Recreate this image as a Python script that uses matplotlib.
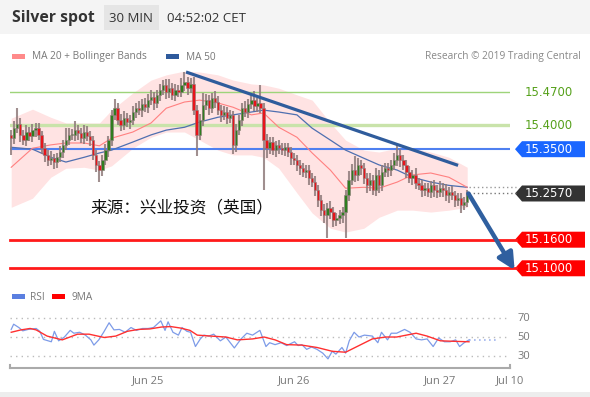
import numpy as np
import matplotlib
matplotlib.use("Agg")
import matplotlib.pyplot as plt
from matplotlib.patches import Polygon, Rectangle

# ---------------- data ----------------
# candle closes (30-min), first candle Jun 24 01:30, hours relative to Jun 25 00:00
first_candle_hour = -22.5
closes = [15.373, 15.394, 15.403, 15.380, 15.369, 15.386, 15.378, 15.390, 15.394, 15.380,
          15.352, 15.338, 15.327, 15.331, 15.323, 15.333, 15.344, 15.359, 15.369, 15.380,
          15.380, 15.390, 15.384, 15.373, 15.386, 15.378, 15.369, 15.338, 15.317, 15.306,
          15.327, 15.348, 15.369, 15.422, 15.436, 15.411, 15.401, 15.415, 15.407, 15.411,
          15.428, 15.436, 15.432, 15.445, 15.438, 15.453, 15.459, 15.447, 15.464, 15.474,
          15.485, 15.470, 15.478, 15.464, 15.474, 15.470, 15.485, 15.491, 15.478, 15.487,
          15.432, 15.380, 15.411, 15.443, 15.453, 15.436, 15.457, 15.449, 15.432, 15.422,
          15.428, 15.415, 15.422, 15.359, 15.390, 15.411, 15.436, 15.428, 15.445, 15.453,
          15.441, 15.447, 15.436, 15.369, 15.352, 15.365, 15.348, 15.359, 15.352, 15.348,
          15.354, 15.344, 15.331, 15.327, 15.317, 15.310, 15.302, 15.306, 15.289, 15.281,
          15.264, 15.243, 15.222, 15.211, 15.226, 15.218, 15.201, 15.205, 15.211, 15.218,
          15.253, 15.285, 15.306, 15.296, 15.317, 15.310, 15.289, 15.274, 15.285, 15.264,
          15.296, 15.274, 15.302, 15.310, 15.306, 15.317, 15.327, 15.338, 15.327, 15.317,
          15.302, 15.289, 15.296, 15.279, 15.274, 15.264, 15.268, 15.260, 15.274, 15.264,
          15.260, 15.268, 15.264, 15.253, 15.260, 15.253, 15.243, 15.247, 15.232, 15.239,
          15.257]
first_open = 15.380
# wick lengths (thousandths of a dollar) above / below the body
wick_up = [10, 15, 33, 12, 10, 15, 10, 12, 10, 10,
           8, 10, 10, 15, 8, 10, 12, 10, 25, 15,
           12, 20, 10, 10, 15, 12, 10, 8, 10, 8,
           10, 12, 8, 10, 20, 10, 12, 15, 10, 10,
           12, 10, 15, 10, 12, 12, 15, 10, 10, 12,
           10, 12, 20, 10, 12, 10, 15, 20, 10, 12,
           15, 10, 12, 25, 12, 10, 10, 15, 12, 10,
           12, 10, 10, 8, 12, 10, 10, 15, 10, 12,
           20, 10, 38, 10, 12, 10, 10, 8, 10, 10,
           10, 8, 10, 12, 10, 10, 12, 10, 10, 12,
           12, 10, 10, 12, 10, 15, 10, 10, 12, 10,
           12, 20, 12, 30, 15, 10, 12, 10, 15, 10,
           15, 10, 15, 10, 12, 10, 15, 20, 12, 10,
           10, 12, 10, 15, 10, 12, 10, 12, 10, 12,
           10, 15, 10, 12, 10, 12, 10, 10, 12, 10,
           8]
wick_dn = [35, 12, 10, 15, 10, 12, 10, 12, 15, 10,
           12, 15, 12, 10, 15, 12, 10, 12, 10, 10,
           10, 12, 15, 10, 12, 10, 12, 10, 15, 25,
           12, 10, 15, 12, 10, 10, 12, 10, 10, 15,
           10, 12, 10, 15, 10, 12, 10, 15, 10, 12,
           10, 15, 12, 10, 12, 10, 10, 12, 15, 10,
           10, 45, 10, 12, 10, 15, 10, 12, 10, 15,
           10, 12, 10, 20, 15, 10, 12, 10, 12, 10,
           10, 12, 10, 105, 20, 12, 10, 15, 12, 10,
           12, 10, 15, 10, 12, 15, 10, 12, 15, 10,
           12, 15, 12, 15, 48, 15, 15, 12, 12, 15,
           55, 12, 10, 15, 12, 15, 12, 15, 12, 10,
           12, 15, 12, 10, 15, 12, 10, 12, 15, 10,
           12, 10, 15, 12, 10, 15, 12, 10, 12, 15,
           12, 10, 15, 12, 15, 10, 15, 12, 15, 10,
           10]

# indicator samples (hours relative to Jun 25 00:00)
ind_hours = [-22.5, -19, -16, -13.5, -10.5, -8, -6, -2.5, 0.5, 3, 6, 8.5, 11.5, 14,
             17, 19, 21.5, 24.5, 27, 30, 32.5, 35.5, 38, 41, 43.5, 46.5, 49.5, 52.5]
ma20 = [15.312, 15.352, 15.359, 15.363, 15.363, 15.357, 15.373, 15.386, 15.405, 15.436,
        15.449, 15.453, 15.447, 15.438, 15.422, 15.426, 15.396, 15.375, 15.342, 15.306,
        15.268, 15.270, 15.268, 15.281, 15.296, 15.300, 15.291, 15.270]
ma50 = [15.354, 15.350, 15.333, 15.323, 15.333, 15.342, 15.348, 15.365, 15.380, 15.390,
        15.396, 15.407, 15.417, 15.422, 15.428, 15.432, 15.428, 15.422, 15.394, 15.369,
        15.348, 15.331, 15.317, 15.306, 15.291, 15.281, 15.274, 15.270]
bb_upper = [15.415, 15.434, 15.417, 15.405, 15.405, 15.405, 15.432, 15.468, 15.495, 15.506,
            15.514, 15.512, 15.506, 15.495, 15.487, 15.485, 15.478, 15.464, 15.453, 15.405,
            15.369, 15.348, 15.344, 15.352, 15.352, 15.344, 15.333, 15.312]
bb_lower = [15.228, 15.247, 15.291, 15.310, 15.312, 15.306, 15.315, 15.352, 15.375, 15.386,
            15.386, 15.369, 15.348, 15.338, 15.338, 15.333, 15.310, 15.258, 15.216, 15.184,
            15.176, 15.184, 15.207, 15.222, 15.222, 15.218, 15.222, 15.228]

# trend line (hours, price)
trend_hours = [6.25, 51.0]
trend_prices = [15.512, 15.316]
# forecast arrow
arrow_from = (52.7, 15.257)
arrow_to = (60.3, 15.096)

# key levels
res_levels = [15.4700, 15.4000]
pivot_level = 15.3500
last_price = 15.2570
ma50_last = 15.270
sup_levels = [15.1600, 15.1000]

# RSI
rsi_hours = [-22.5, -22.1, -21.25, -20.6, -19.7, -18.4, -17.8, -17.2, -15.9, -15.4, -14.7,
             -13.75, -12.8, -12.2, -11.25, -10.3, -9.4, -8.9, -8.1, -7.3, -6.4, -5.6, -4.7,
             -3.75, -2.8, -1.9, -0.9, 0.0, 0.9, 2.1, 2.8, 3.3, 4.1, 5.0, 5.6, 6.4, 7.0, 7.8,
             8.6, 9.2, 10.0, 10.8, 11.9, 12.8, 14.2, 15.3, 16.25, 17.2, 18.4, 19.4, 20.0,
             20.9, 21.9, 22.8, 24.1, 24.7, 25.3, 26.1, 26.9, 27.8, 28.75, 29.6, 30.3, 30.9,
             31.9, 32.5, 33.1, 33.9, 34.7, 35.6, 36.9, 37.8, 38.4, 39.4, 40.0, 40.9, 42.2,
             43.1, 44.1, 45.0, 45.9, 46.9, 47.8, 48.75, 49.7, 50.6, 51.25, 52.0, 52.8]
rsi_vals = [58, 63.5, 60, 56.5, 58, 59, 56, 47.5, 45, 56, 46,
            50, 57, 54, 55, 52, 47, 41.5, 47, 55, 65, 57.5, 58,
            55, 60, 57, 59, 59, 60, 67, 57, 66, 55, 52, 60, 56, 55, 40,
            48, 52, 51, 53, 46, 50, 38.5, 48, 54, 52, 57, 40, 44,
            42, 44, 41, 45, 41, 42, 37, 39.5, 37, 33, 27, 35, 32,
            39, 33, 46, 55, 50, 52, 51, 44, 55, 47, 54, 54, 58,
            55, 48, 47, 48, 40, 49, 45, 45, 47, 40, 44, 47]
rsi_ma_hours = [-22.5, -20.9, -19.4, -18.4, -16.6, -14.1, -11.6, -9.7, -7.2, -5.3, -3.4,
                -1.6, 0.3, 2.2, 3.75, 5.3, 6.9, 8.1, 10.3, 12.8, 14.7, 17.2, 19.1, 20.9,
                22.8, 25.3, 27.8, 30.3, 32.5, 34.7, 36.9, 39.1, 40.9, 42.5, 44.1, 45.9,
                48.1, 50.3, 52.8]
rsi_ma_vals = [55, 57.5, 59, 57.5, 51, 47, 53, 53, 49.5, 51, 56,
               58, 58.5, 60.5, 61, 59.5, 57, 52, 51, 50, 47, 48, 50, 47,
               42, 41.5, 39, 35, 34, 41, 48, 50, 50, 52, 54, 51,
               46, 45.5, 45]
rsi_levels = [70, 50, 30]

tick_hours = [0, 24, 48, 59.5]
tick_labels = ["Jun 25", "Jun 26", "Jun 27", "Jul 10"]

# ---------------- figure ----------------
W, H = 590, 397
fig = plt.figure(figsize=(W / 100, H / 100), dpi=100)
fig.patch.set_facecolor("white")

def px_rect(x0, y0, x1, y1):
    return [x0 / W, 1 - y1 / H, (x1 - x0) / W, (y1 - y0) / H]

XMIN, XMAX = -22.7, 59.54

# overlay axis in pixel coordinates (origin top-left)
ov = fig.add_axes([0, 0, 1, 1], zorder=0)
ov.set_xlim(0, W)
ov.set_ylim(H, 0)
ov.axis("off")

# header
ov.add_patch(Rectangle((0, 0), W, 34, color="#f4f4f4", lw=0))
ov.add_patch(Rectangle((104, 5), 55, 25, color="#e5e5e5", lw=0))
ov.text(12, 18, "Silver spot", fontsize=11.3, fontweight="bold", color="#333333",
        va="center", ha="left", family="Open Sans")
ov.text(131, 18, "30 MIN", fontsize=9.5, color="#333333", va="center", ha="center",
        family="Open Sans")
ov.text(167, 18, "04:52:02 CET", fontsize=9.5, color="#333333", va="center", ha="left",
        family="Open Sans")

# legends
ov.add_patch(Rectangle((12, 54), 13, 5, color="#ff8a8a", lw=0))
ov.text(32, 57, "MA 20 + Bollinger Bands", fontsize=7.3, color="#777777", va="center",
        family="Open Sans")
ov.add_patch(Rectangle((166, 54), 13, 5, color="#2e5a9c", lw=0))
ov.text(186, 57, "MA 50", fontsize=7.3, color="#777777", va="center", family="Open Sans")
ov.text(581, 57, "Research © 2019 Trading Central", fontsize=7.3, color="#888888",
        va="center", ha="right", family="Open Sans")

ov.add_patch(Rectangle((12, 294), 13, 5, color="#5b7fe0", lw=0))
ov.text(30, 297, "RSI", fontsize=7.3, color="#777777", va="center", family="Open Sans")
ov.add_patch(Rectangle((52, 294), 13, 5, color="#ff0000", lw=0))
ov.text(72, 297, "9MA", fontsize=7.3, color="#777777", va="center", family="Open Sans")

# bottom strip
ov.add_patch(Rectangle((0, 392), W, 5, color="#ededed", lw=0))

# ---------------- main price axis ----------------
ax = fig.add_axes(px_rect(10, 62, 510, 280), zorder=2)
ax.set_xlim(XMIN, XMAX)
ax.set_ylim(15.0754, 15.533)
ax.axis("off")
ax.patch.set_alpha(0)

ax.fill_between(ind_hours, bb_lower, bb_upper, color="#ffe3e3", lw=0, zorder=1)

# levels
ax.axhline(res_levels[0], color="#9ed47a", lw=1.0, zorder=2)
ax.axhline(res_levels[1], color="#c9e3aa", lw=2.4, zorder=2)
ax.axhline(pivot_level, color="#4f80f0", lw=1.5, zorder=2)
for lv in sup_levels:
    ax.plot([XMIN, 60.5], [lv, lv], color="#ff1a1a", lw=2.0, zorder=2, clip_on=False)

ax.plot(ind_hours, ma50, color="#4f6fb0", lw=0.9, zorder=3)
ax.plot(ind_hours, ma20, color="#ff8080", lw=0.8, zorder=3)

# candles
n = len(closes)
hours = first_candle_hour + 0.5 * np.arange(n)
opens = np.concatenate([[first_open], np.array(closes[:-1])])
closes_a = np.array(closes)
tops = np.maximum(opens, closes_a)
bots = np.minimum(opens, closes_a)
highs = tops + np.array(wick_up) / 1000.0
lows = bots - np.array(wick_dn) / 1000.0
ax.vlines(hours, lows, highs, color="#8f7c7c", lw=1.5, alpha=0.85, zorder=4)
up = closes_a >= opens
body_h = np.maximum(tops - bots, 0.0015)
ax.bar(hours[up], body_h[up], bottom=bots[up], width=0.38, color="#2f7d1f",
       edgecolor="#8f7c7c", lw=0.4, zorder=5)
ax.bar(hours[~up], body_h[~up], bottom=bots[~up], width=0.38, color="#e8141a",
       edgecolor="#8f7c7c", lw=0.4, zorder=5)

# trend line
ax.plot(trend_hours, trend_prices, color="#2f5c9c", lw=2.3, zorder=6, solid_capstyle="butt")

# dotted lines to tag
ax.plot([hours[-1] + 0.3, 60.5], [last_price, last_price], color="#777777", lw=1,
        ls=(0, (1, 2)), zorder=6, clip_on=False)
ax.plot([hours[-1] + 0.3, 60.5], [ma50_last, ma50_last], color="#999999", lw=1,
        ls=(0, (1, 2)), zorder=6, clip_on=False)

# arrow
ax.annotate("", xy=arrow_to, xytext=arrow_from,
            arrowprops=dict(arrowstyle="-|>,head_width=0.5,head_length=1.0",
                            color="#2f5f9f", lw=3.2, shrinkA=0, shrinkB=0),
            annotation_clip=False, zorder=7)

# chinese source text
ax.text(-9.5, 15.226, "来源：兴业投资（英国）", fontsize=12, color="#111111",
        family=["Noto Sans CJK SC", "DejaVu Sans"], va="center", ha="left", zorder=8)

# right tags
fig.canvas.draw()
def level_px(lv):
    disp = ax.transData.transform((0, lv))
    return H - disp[1]

for lv in res_levels:
    ov.text(525, level_px(lv), f"{lv:.4f}", fontsize=8.4, color="#55a01a", va="center",
            ha="left", family="DejaVu Sans")

def tag(lv, color):
    y = level_px(lv)
    h = 8
    ov.add_patch(Polygon([[515, y], [522, y - h], [585, y - h], [585, y + h], [522, y + h]],
                         closed=True, color=color, lw=0, zorder=3))
    ov.text(525, y, f"{lv:.4f}", fontsize=8.4, color="white", va="center", ha="left",
            family="DejaVu Sans", zorder=4)

tag(pivot_level, "#1a66ff")
tag(last_price, "#333333")
for lv in sup_levels:
    tag(lv, "#ff0000")

# ---------------- RSI axis ----------------
rx = fig.add_axes(px_rect(10, 305, 510, 368), zorder=2)
rx.set_xlim(XMIN, XMAX)
rx.set_ylim(17.4, 83.7)
rx.patch.set_alpha(0)
for s in ["top", "right", "left"]:
    rx.spines[s].set_visible(False)
rx.spines["bottom"].set_color("#aaaaaa")
rx.spines["bottom"].set_linewidth(1.5)
for lv in rsi_levels:
    rx.plot([XMIN, XMAX], [lv, lv], color="#bbbbbb", lw=1, ls=(0, (1, 3)), zorder=1)
rx.plot(rsi_hours, rsi_vals, color="#7d9be8", lw=0.9, zorder=3)
rx.plot(rsi_ma_hours, rsi_ma_vals, color="#ff3030", lw=1.0, zorder=4)
rx.plot([rsi_hours[-1], 57.5], [rsi_vals[-1], rsi_vals[-1]], color="#9fb4ee", lw=1.2,
        ls=(0, (1, 2)), zorder=2)
rx.set_yticks([])
rx.set_xticks(tick_hours)
rx.set_xticklabels(tick_labels, fontsize=8, color="#777777", family="Open Sans")
rx.tick_params(axis="x", length=0, pad=5)
for xe in [XMIN, XMAX]:
    rx.plot([xe, xe], [17.4, 21.0], color="#aaaaaa", lw=1.5, clip_on=False, zorder=5)
for lv in rsi_levels:
    rx.text(XMAX + 1.2, lv, str(lv), fontsize=8, color="#777777", va="center", ha="left",
            family="Open Sans", clip_on=False)

fig.savefig("out.png", dpi=100)
